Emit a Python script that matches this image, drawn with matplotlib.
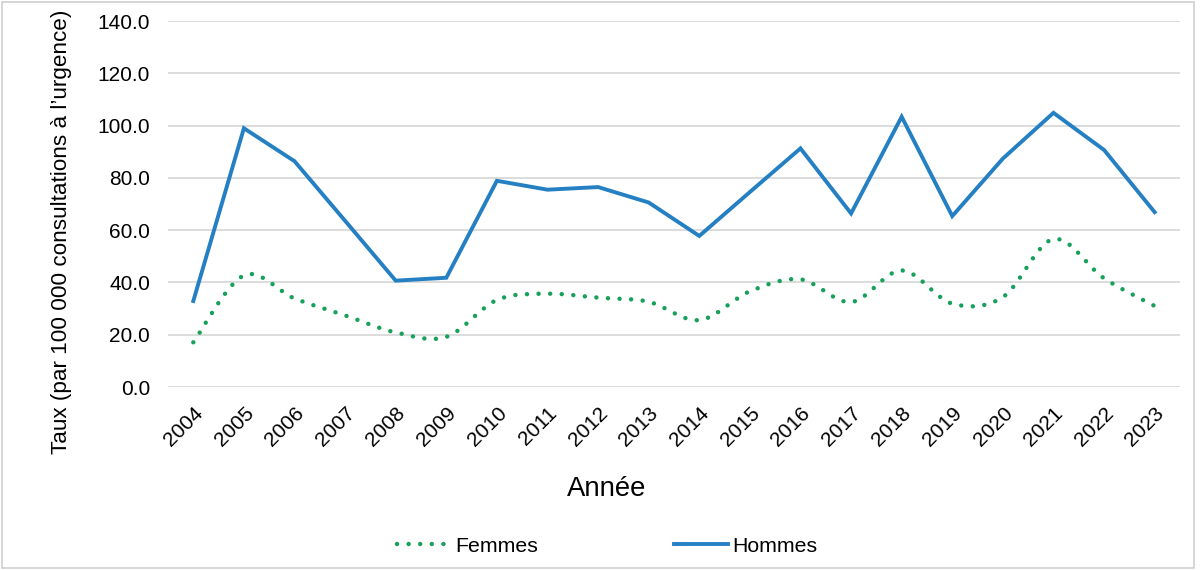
import matplotlib
matplotlib.use("Agg")
import matplotlib.pyplot as plt
from matplotlib.path import Path
from matplotlib.patches import PathPatch, Rectangle
from matplotlib.lines import Line2D
import numpy as np

plt.rcParams['font.family'] = ['Liberation Sans', 'DejaVu Sans']

years = ['2004', '2005', '2006', '2007', '2008', '2009', '2010', '2011', '2012', '2013',
         '2014', '2015', '2016', '2017', '2018', '2019', '2020', '2021', '2022', '2023']
hommes = [32.9, 99.0, 86.4, 63.6, 40.7, 41.8, 78.9, 75.5, 76.5, 70.6,
          57.8, 74.6, 91.3, 66.4, 103.4, 65.4, 87.4, 104.9, 90.7, 66.9]
femmes = [17.1, 42.7, 33.9, 27.4, 20.9, 19.2, 33.3, 35.7, 34.2, 32.6,
          25.6, 36.6, 41.2, 32.5, 44.6, 31.9, 34.4, 56.6, 41.6, 31.0]

yticks = [0, 20, 40, 60, 80, 100, 120, 140]
ylabel = "Taux (par 100 000 consultations à l’urgence)"
xlabel = "Année"
series_names = ['Femmes', 'Hommes']

blue = '#2580C3'
green = '#17A05A'
dots = (0, (0.01, 2.6))

fig = plt.figure(figsize=(12, 5.7), dpi=100)
fig.patches.append(Rectangle((0.002, 0.003), 0.993, 0.993, transform=fig.transFigure,
                             fill=False, edgecolor='#d0d0d0', linewidth=1.2))
ax = fig.add_axes([0.14, 0.321, 0.8433, 0.642])

x = np.arange(len(years))

# Hommes: straight line
ax.plot(x, hommes, color=blue, linewidth=2.8, solid_joinstyle='miter', zorder=3)


# Femmes: smoothed (Excel-like Catmull-Rom Bezier) dotted path
def smooth_path(xs, ys, t=1/6):
    verts = [(xs[0], ys[0])]
    codes = [Path.MOVETO]
    n = len(xs)
    for i in range(n - 1):
        p0 = (xs[max(i - 1, 0)], ys[max(i - 1, 0)])
        p1 = (xs[i], ys[i])
        p2 = (xs[i + 1], ys[i + 1])
        p3 = (xs[min(i + 2, n - 1)], ys[min(i + 2, n - 1)])
        c1 = (p1[0] + (p2[0] - p0[0]) * t, p1[1] + (p2[1] - p0[1]) * t)
        c2 = (p2[0] - (p3[0] - p1[0]) * t, p2[1] - (p3[1] - p1[1]) * t)
        verts += [c1, c2, p2]
        codes += [Path.CURVE4] * 3
    return Path(verts, codes)


patch = PathPatch(smooth_path(x, femmes), facecolor='none', edgecolor=green,
                  linewidth=3.2, linestyle=dots, capstyle='round', zorder=3)
ax.add_patch(patch)

ax.set_xlim(-0.5, len(years) - 0.5)
ax.set_ylim(0, 140)
ax.set_yticks(yticks)
ax.set_yticklabels([f"{v:.1f}" for v in yticks], fontsize=15)
ax.set_xticks(x)
ax.set_xticklabels(years, rotation=45, ha='right', va='top', rotation_mode='anchor', fontsize=15)
ax.tick_params(axis='both', length=0)
ax.tick_params(axis='y', pad=13)
ax.tick_params(axis='x', pad=12)
ax.grid(axis='y', color='#d9d9d9', linewidth=1.3)
ax.set_axisbelow(True)
for s in ax.spines.values():
    s.set_visible(False)

ax.set_ylabel(ylabel, fontsize=16.2, va='center')
ax.yaxis.set_label_coords(-0.105, 0.423)
fig.text(607 / 1200, 1 - 489 / 570, xlabel, fontsize=19.8, ha='center', va='center')

handles = [Line2D([0], [0], color=green, linewidth=3.2, linestyle=dots,
                  dash_capstyle='round'),
           Line2D([0], [0], color=blue, linewidth=2.8)]
fig.legend(handles, series_names, loc='center', bbox_to_anchor=(607 / 1200, 1 - 546 / 570),
           ncol=2, frameon=False, fontsize=15.3, handlelength=2.55, handletextpad=0.2,
           columnspacing=6.4, borderpad=0, borderaxespad=0)

fig.savefig('out.png', dpi=100, facecolor='white')
